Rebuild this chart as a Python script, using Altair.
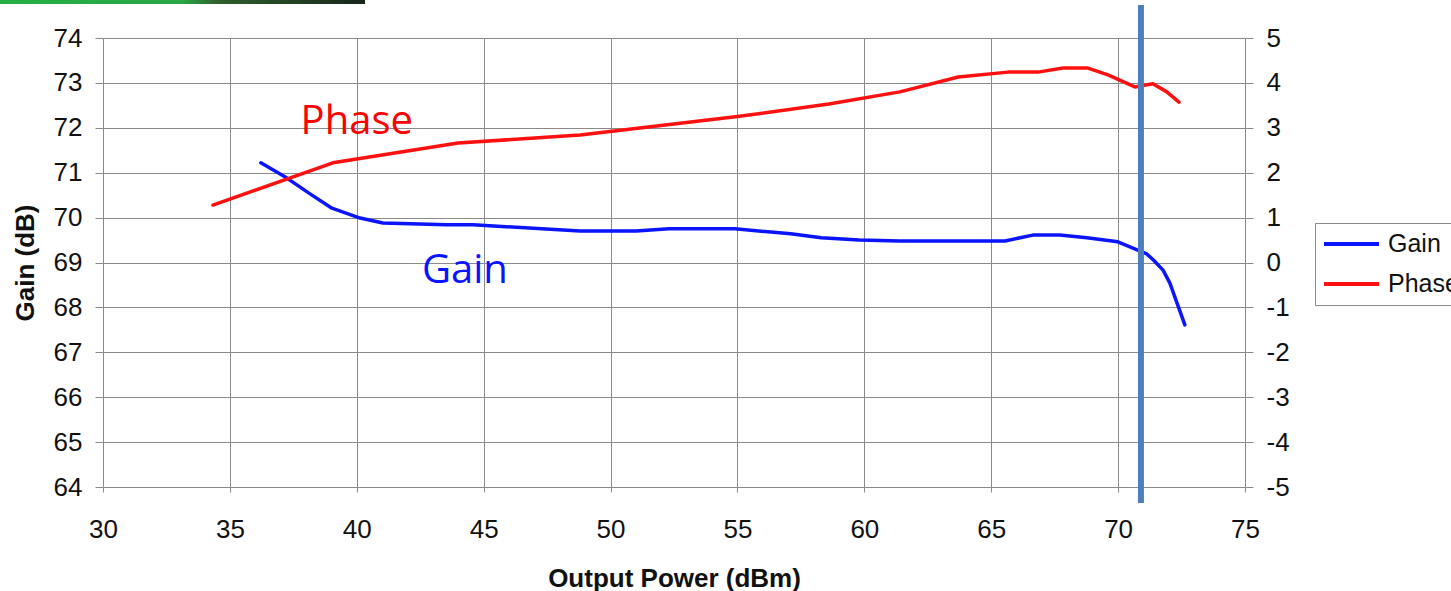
import altair as alt
import pandas as pd

# ---- data ----
gain_x = [36.22, 37.25, 38.1, 39.02, 40.13, 41.03, 43.55, 44.58, 48.8, 51.0, 52.3, 54.9,
          57.1, 58.3, 59.8, 61.4, 65.54, 66.64, 67.7, 68.77, 69.99, 71.13, 71.4, 71.77, 72.04, 72.63]
gain_y = [71.22, 70.88, 70.55, 70.21, 69.99, 69.88, 69.84, 69.84, 69.70, 69.70, 69.75, 69.75,
          69.64, 69.55, 69.50, 69.48, 69.48, 69.61, 69.61, 69.55, 69.46, 69.19, 69.05, 68.83, 68.54, 67.61]

phase_x = [34.33, 39.06, 43.99, 48.8, 55.0, 58.6, 61.4, 63.7, 65.66, 66.84, 67.83, 68.81,
           69.6, 70.66, 71.37, 71.92, 72.4]
phase_y = [1.28, 2.22, 2.66, 2.84, 3.25, 3.53, 3.80, 4.13, 4.24, 4.24, 4.33, 4.33,
           4.18, 3.91, 3.98, 3.80, 3.57]

series_names = ["Gain", "Phase"]
series_colors = ["#0a14ff", "#ff1010"]

x_ticks = [30, 35, 40, 45, 50, 55, 60, 65, 70, 75]
gain_ticks = list(range(64, 75))
phase_ticks = list(range(-5, 6))

marker_x = [70.9]
label_text = ["Phase", "Gain"]
label_x = [40.0, 44.26]
label_y = [71.86, 68.54]

FONT = "Liberation Sans"
GRID = "#8a8a8a"

gain_df = pd.DataFrame({"x": gain_x, "y": gain_y, "series": "Gain"})
phase_df = pd.DataFrame({"x": phase_x, "y": phase_y, "series": "Phase"})
marker_df = pd.DataFrame({"x": marker_x})
lab_df = pd.DataFrame({"t": label_text, "x": label_x, "y": label_y})

xscale = alt.Scale(domain=[30, 75], nice=False, zero=False)
gscale = alt.Scale(domain=[64, 74], nice=False, zero=False)
pscale = alt.Scale(domain=[-5, 5], nice=False, zero=False)

color = alt.Color(
    "series:N",
    scale=alt.Scale(domain=series_names, range=series_colors),
    legend=alt.Legend(
        title=None, orient="none", legendX=1212, legendY=185,
        symbolType="stroke", symbolSize=3025, symbolStrokeWidth=4,
        labelFontSize=25, labelFont=FONT, labelColor="#111111", labelOffset=7,
        clipHeight=28, rowPadding=12, padding=7,
        fillColor="white", strokeColor=GRID, labelLimit=300,
    ),
)

xaxis = alt.Axis(
    values=x_ticks, title="Output Power (dBm)", grid=True, gridColor=GRID,
    domain=False, tickColor=GRID, tickSize=5, labelFontSize=26, labelFont=FONT,
    labelColor="#111111", labelPadding=24, titleFont=FONT, titleFontSize=26,
    titleFontWeight="bold", titleColor="#111111", titleBaseline="alphabetic",
    titleY=99, labelFlush=False,
)

gain_line = alt.Chart(gain_df).mark_line(strokeWidth=3.5, strokeJoin="round", strokeCap="round").encode(
    x=alt.X("x:Q", scale=xscale, axis=xaxis),
    y=alt.Y("y:Q", scale=gscale, axis=alt.Axis(
        values=gain_ticks, title="Gain (dB)", grid=True, gridColor=GRID, domain=False,
        tickColor=GRID, tickSize=8, labelFontSize=26, labelFont=FONT, labelColor="#111111",
        labelPadding=13, titleFont=FONT, titleFontSize=26, titleFontWeight="bold",
        titleColor="#111111", titleX=-78, titleBaseline="middle", labelFlush=False,
    )),
    color=color,
)

phase_line = alt.Chart(phase_df).mark_line(strokeWidth=3.5, strokeJoin="round", strokeCap="round").encode(
    x=alt.X("x:Q", scale=xscale),
    y=alt.Y("y:Q", scale=pscale, axis=alt.Axis(
        orient="right", values=phase_ticks, title=None, grid=False, domain=False,
        tickColor=GRID, tickSize=8, labelFontSize=26, labelFont=FONT, labelColor="#111111",
        labelPadding=13, labelFlush=False, labelExpr="'' + datum.value",
    )),
    color=color,
)

labels = alt.Chart(lab_df).mark_text(font="Open Sans", fontSize=40, baseline="alphabetic", align="center").encode(
    x=alt.X("x:Q", scale=xscale),
    y=alt.Y("y:Q", scale=gscale, axis=None),
    text="t:N",
    color=alt.Color("t:N", scale=alt.Scale(domain=["Phase", "Gain"], range=["#ff0000", "#0a14ff"]), legend=None),
)

marker = alt.Chart(marker_df).mark_rule(color="#4f7fbb", strokeWidth=6).encode(
    x=alt.X("x:Q", scale=xscale),
    y=alt.value(-33),
    y2=alt.value(465),
)

bar = alt.Chart(marker_df).mark_rect(
    color=alt.LinearGradient(
        gradient="linear",
        stops=[alt.GradientStop(color="#22b045", offset=0),
               alt.GradientStop(color="#2aa545", offset=0.5),
               alt.GradientStop(color="#2f5e2c", offset=0.6),
               alt.GradientStop(color="#18261a", offset=1)],
        x1=0, x2=1, y1=0, y2=0,
    )
).encode(
    x=alt.value(-103), x2=alt.value(262), y=alt.value(-38), y2=alt.value(-34),
)

chart = alt.layer(gain_line, phase_line, labels, marker, bar).resolve_scale(
    y="independent", color="independent"
).properties(
    width=1142, height=449,
    autosize=alt.AutoSizeParams(type="none"),
    padding={"left": 103, "top": 38, "right": 206, "bottom": 104},
    background="white",
).configure_view(stroke=None)

chart.save("out.html", embed_options={"renderer": "svg", "actions": False})
